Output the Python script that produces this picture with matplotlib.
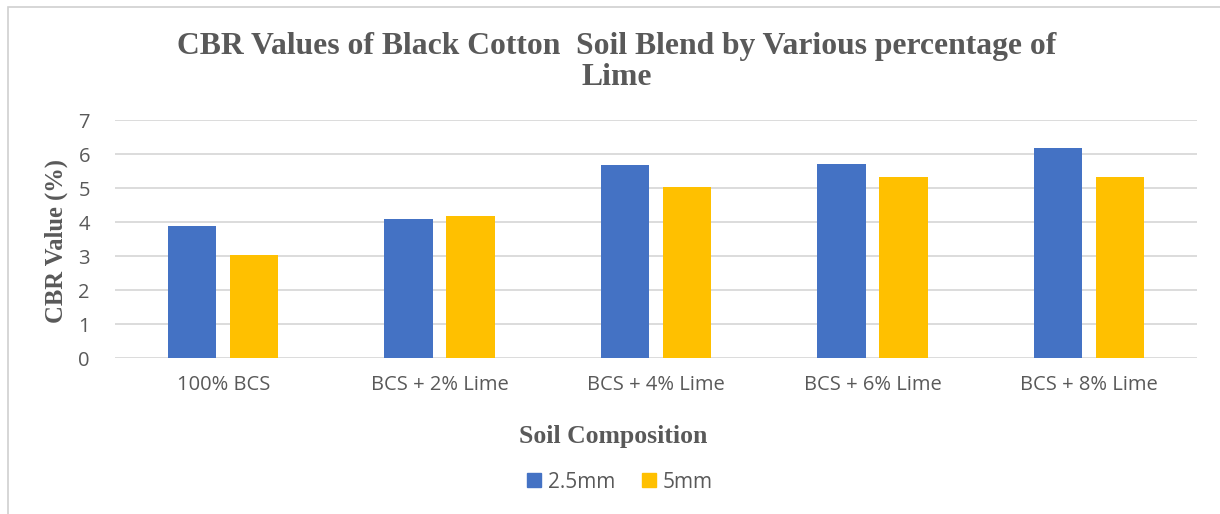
import matplotlib
matplotlib.use('Agg')
import matplotlib.pyplot as plt
import matplotlib.patches as mpatches
import numpy as np

categories = ['100% BCS', 'BCS + 2% Lime', 'BCS + 4% Lime', 'BCS + 6% Lime', 'BCS + 8% Lime']
cbr_25mm = [3.9, 4.1, 5.7, 5.72, 6.2]
cbr_5mm = [3.04, 4.2, 5.03, 5.34, 5.34]
series_labels = ['2.5mm', '5mm']
y_ticks = [0, 1, 2, 3, 4, 5, 6, 7]

blue = '#4472C4'
gold = '#FFC000'
text_gray = '#595959'
grid_gray = '#D9D9D9'

fig = plt.figure(figsize=(12.2, 5.14), dpi=100)
fig.patch.set_facecolor('white')

# light frame around the chart area
frame = mpatches.Rectangle((8 / 1220, -0.01), 1.02, 1 - 7 / 514 + 0.01,
                           transform=fig.transFigure, fill=False,
                           edgecolor='#D0D0D0', linewidth=1.2)
fig.patches.append(frame)

ax = fig.add_axes([115 / 1220, 1 - 358.3 / 514, (1197 - 115) / 1220, (358.3 - 120.3) / 514])

x = np.arange(len(categories))
offset = 0.143
width = 0.224
ax.bar(x - offset, cbr_25mm, width, color=blue, label=series_labels[0], zorder=3)
ax.bar(x + offset, cbr_5mm, width, color=gold, label=series_labels[1], zorder=3)

ax.set_xlim(-0.5, len(categories) - 0.5)
ax.set_ylim(0, 7)
ax.set_yticks(y_ticks)
ax.set_xticks(x)
ax.set_xticklabels(categories)

for spine in ax.spines.values():
    spine.set_visible(False)
ax.yaxis.grid(True, color=grid_gray, linewidth=1.3, zorder=0)
ax.set_axisbelow(True)
ax.tick_params(axis='both', length=0, labelsize=14.5, labelcolor=text_gray,
               labelfontfamily='Open Sans')
ax.tick_params(axis='x', pad=12)
ax.tick_params(axis='y', pad=18)

serif = {'family': 'Liberation Serif', 'weight': 'bold', 'color': text_gray}
fig.text(617 / 1220, 1 - 62 / 514,
         'CBR Values of Black Cotton  Soil Blend by Various percentage of\nLime',
         ha='center', va='center', fontsize=22.8, linespacing=1.05, **serif)
fig.text(56 / 1220, 1 - 241 / 514, 'CBR Value (%)', rotation=90,
         ha='center', va='center', fontsize=17.7, **serif)
fig.text(613 / 1220, 1 - 437 / 514, 'Soil Composition',
         ha='center', va='center', fontsize=18.5, **serif)

handles = [mpatches.Patch(color=blue, label=series_labels[0]),
           mpatches.Patch(color=gold, label=series_labels[1])]
fig.legend(handles=handles, loc='center', bbox_to_anchor=(620 / 1220, 1 - 482 / 514),
           ncol=2, frameon=False, handlelength=0.65, handleheight=0.65,
           handletextpad=0.35, columnspacing=1.3,
           prop={'family': 'Open Sans', 'size': 15}, labelcolor=text_gray)

fig.savefig('out.png', dpi=100)
